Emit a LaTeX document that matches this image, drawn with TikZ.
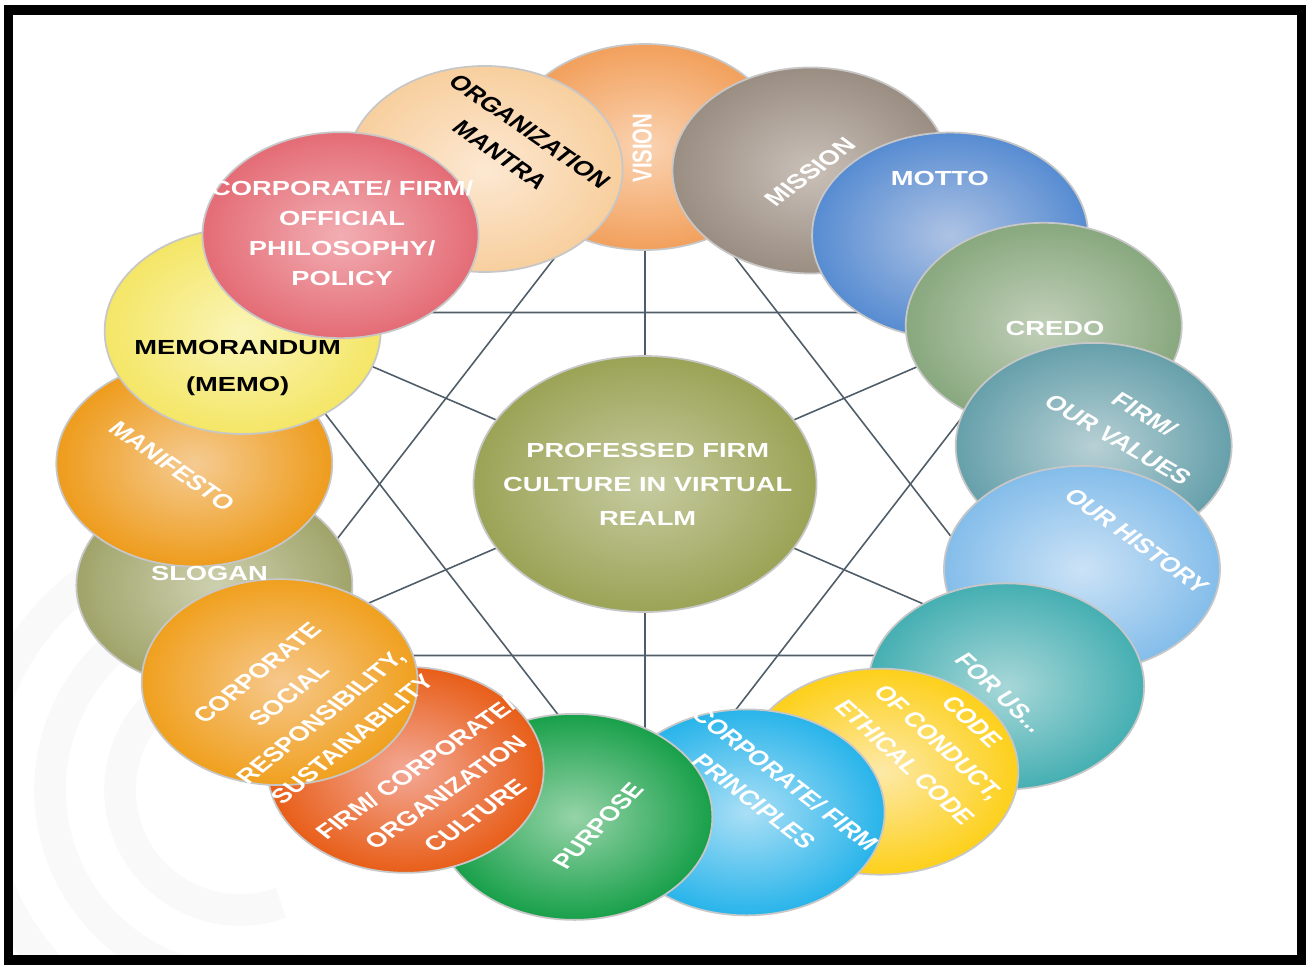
\documentclass[tikz,border=0pt]{standalone}
\usepackage{fontspec}
\setmainfont{Liberation Sans}

% ring colours: C = rim, L = light centre
\definecolor{visionC}{HTML}{F2A05C}   \definecolor{visionL}{HTML}{FAD3B2}
\definecolor{missionC}{HTML}{9A8D82}  \definecolor{missionL}{HTML}{C9C0B8}
\definecolor{mottoC}{HTML}{578CD2}    \definecolor{mottoL}{HTML}{AEC3E4}
\definecolor{credoC}{HTML}{88A87E}    \definecolor{credoL}{HTML}{C2D0BA}
\definecolor{valuesC}{HTML}{66A0AB}   \definecolor{valuesL}{HTML}{B7D0D4}
\definecolor{historyC}{HTML}{84BDEA}  \definecolor{historyL}{HTML}{CBE2F6}
\definecolor{forusC}{HTML}{45AFB2}    \definecolor{forusL}{HTML}{A8D7D8}
\definecolor{codeC}{HTML}{FDD01A}     \definecolor{codeL}{HTML}{FDE9A8}
\definecolor{princC}{HTML}{28B4EA}    \definecolor{princL}{HTML}{AADFF6}
\definecolor{purposeC}{HTML}{18A04A}  \definecolor{purposeL}{HTML}{96D3A8}
\definecolor{cultureC}{HTML}{E85E18}  \definecolor{cultureL}{HTML}{F3A896}
\definecolor{csrC}{HTML}{F0A01E}      \definecolor{csrL}{HTML}{F6C88C}
\definecolor{sloganC}{HTML}{A0A46A}   \definecolor{sloganL}{HTML}{CDD0AE}
\definecolor{maniC}{HTML}{EE9C1C}     \definecolor{maniL}{HTML}{F5CB92}
\definecolor{memoC}{HTML}{F4E666}     \definecolor{memoL}{HTML}{FAF5B8}
\definecolor{philC}{HTML}{E46C76}     \definecolor{philL}{HTML}{F2AEB3}
\definecolor{mantraC}{HTML}{F8CF9E}   \definecolor{mantraL}{HTML}{FCE8D2}
\definecolor{coreC}{HTML}{9BA356}     \definecolor{coreL}{HTML}{C6CBA0}
\definecolor{linegray}{HTML}{4E5D68}

\tikzset{
  bubble/.style={circle, minimum size=2.06cm, inner sep=0pt, draw=black!22,
    line width=0.5pt, transform shape},
  words/.style={font=\bfseries\fontsize{5.8}{9.2}\selectfont, text=white,
    align=center, inner sep=0pt, transform shape},
  spoke/.style={draw=linegray, line width=0.45pt},
  haze/.style={draw=black!2.5, line width=9pt},
}

\begin{document}
\begin{tikzpicture}[x=1cm,y=1cm]
    \useasboundingbox (0,0) rectangle (13.09,-9.69);
    % faint watermark swirl
    \begin{scope}
        \clip (0.13,-0.15) rectangle (12.97,-9.55);
        \foreach \r in {1.2,1.9,2.6}
            \draw[haze] (2.4,-7.9) ++(100:\r) arc[start angle=100, end angle=290, radius=\r];
    \end{scope}
    % frame
    \draw[line width=2.7pt] (0.085,-0.10) rectangle (13.015,-9.60);

    \begin{scope}[shift={(6.45,-4.84)}, xscale=1.34]
    % star behind everything
    \coordinate (hub) at (0,0);
    \foreach \a in {30,90,...,330} \coordinate (v\a) at (\a:3.43);
    \draw[spoke] (v90) -- (v210) -- (v330) -- cycle;
    \draw[spoke] (v30) -- (v150) -- (v270) -- cycle;
    \foreach \a in {30,90,...,330} \draw[spoke] (hub) -- (v\a);

    % ring of bubbles, back to front
    \node[bubble, inner color=sloganL, outer color=sloganC] (slogan) at (-162.5:3.37) {};
    \node[bubble, inner color=maniL, outer color=maniC] (manifesto) at (176.5:3.37) {};
    \node[bubble, inner color=memoL, outer color=memoC] (memo) at (153:3.37) {};
    \node[bubble, inner color=visionL, outer color=visionC] (vision) at (90:3.37) {};
    \node[bubble, inner color=mantraL, outer color=mantraC] (mantra) at (110.8:3.37) {};
    \node[bubble, inner color=philL, outer color=philC] (philosophy) at (132.4:3.37) {};
    \node[bubble, inner color=missionL, outer color=missionC] (mission) at (68.5:3.37) {};
    \node[bubble, inner color=mottoL, outer color=mottoC] (motto) at (47.5:3.37) {};
    \node[bubble, inner color=credoL, outer color=credoC] (credo) at (28:3.37) {};
    \node[bubble, inner color=valuesL, outer color=valuesC] (values) at (6.5:3.37) {};
    \node[bubble, inner color=historyL, outer color=historyC] (history) at (-14.6:3.37) {};
    \node[bubble, inner color=forusL, outer color=forusC] (forus) at (-36.9:3.37) {};
    \node[bubble, inner color=codeL, outer color=codeC] (conduct) at (-58.6:3.37) {};
    \node[bubble, inner color=princL, outer color=princC] (principles) at (-77:3.37) {};
    \node[bubble, inner color=purposeL, outer color=purposeC] (purpose) at (-99:3.37) {};
    \node[bubble, inner color=cultureL, outer color=cultureC] (culture) at (-122:3.37) {};
    \node[bubble, inner color=csrL, outer color=csrC] (csr) at (-144:3.37) {};

    % hub bubble
    \node[bubble, minimum size=2.56cm, inner color=coreL, outer color=coreC] (core) at (hub) {};

    % texts
    \node[words, rotate=90] (visiont) at (-0.02,3.36) {VISION};
    \node[words, text=black, rotate=-43] (mantrat) at (-0.97,3.41) {ORGANIZATION\\MANTRA};
    \node[words, rotate=45] (missiont) at (1.23,3.12) {MISSION};
    \node[words] (mottot) at (2.20,3.06) {MOTTO};
    \node[words] (credot) at (3.06,1.56) {CREDO};
    \node[words, rotate=-38] (valuest) at (3.63,0.57) {FIRM/\\OUR VALUES};
    \node[words, rotate=-44] (historyt) at (3.67,-0.57) {OUR HISTORY};
    \node[words, rotate=-51] (forust) at (2.65,-2.09) {FOR US...};
    \node[words, rotate=-51] (conductt) at (2.19,-2.58) {CODE\\OF CONDUCT,\\ETHICAL CODE};
    \node[words, rotate=-46] (principlest) at (0.93,-3.06) {CORPORATE/ FIRM\\PRINCIPLES};
    \node[words, rotate=54] (purposet) at (-0.35,-3.42) {PURPOSE};
    \node[words, rotate=43] (culturet) at (-1.49,-3.08) {FIRM/ CORPORATE/\\ORGANIZATION\\CULTURE};
    \node[words, rotate=47] (csrt) at (-2.54,-2.22) {CORPORATE\\SOCIAL\\RESPONSIBILITY,\\SUSTAINABILITY};
    \node[words] (slogant) at (-3.25,-0.89) {SLOGAN};
    \node[words, rotate=-43] (manifestot) at (-3.53,0.18) {MANIFESTO};
    \node[words, text=black, font=\bfseries\fontsize{5.8}{10.5}\selectfont] (memot) at (-3.04,1.16) {MEMORANDUM\\(MEMO)};
    \node[words, font=\bfseries\fontsize{5.8}{8.5}\selectfont] (philosophyt) at (-2.26,2.51) {CORPORATE/ FIRM/\\OFFICIAL\\PHILOSOPHY/\\POLICY};
    \node[words, font=\bfseries\fontsize{5.8}{9.7}\selectfont] (coret) at (0.02,0) {PROFESSED FIRM\\CULTURE IN VIRTUAL\\REALM};
    \end{scope}
\end{tikzpicture}
\end{document}
